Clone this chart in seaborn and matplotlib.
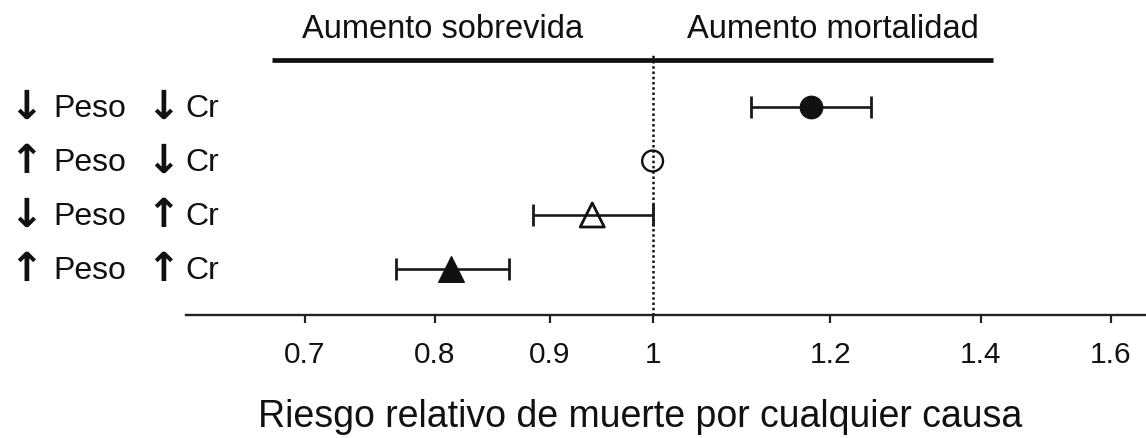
import numpy as np
import pandas as pd
import matplotlib
matplotlib.use("Agg")
import matplotlib.pyplot as plt
from matplotlib.ticker import NullLocator, FixedLocator, FixedFormatter
import seaborn as sns

# ---------------- data ----------------
peso_dir = ["↓", "↑", "↓", "↑"]
cr_dir = ["↓", "↓", "↑", "↑"]
rr = [1.176, 1.0, 0.940, 0.813]
ci_low = [1.106, np.nan, 0.885, 0.769]
ci_high = [1.251, np.nan, 1.0, 0.863]
xtick_values = [0.7, 0.8, 0.9, 1, 1.2, 1.4, 1.6]
xtick_labels = ["0.7", "0.8", "0.9", "1", "1.2", "1.4", "1.6"]
header_left = "Aumento sobrevida"
header_right = "Aumento mortalidad"
x_title = "Riesgo relativo de muerte por cualquier causa"

# ---------------- styles ----------------
INK = "#111111"
marker_styles = [
    dict(marker="o", s=260, color=INK, edgecolor=INK, linewidth=1.0),
    dict(marker="o", s=225, color="none", edgecolor=INK, linewidth=1.7),
    dict(marker="^", s=300, color="none", edgecolor=INK, linewidth=2.0),
    dict(marker="^", s=340, color=INK, edgecolor=INK, linewidth=1.0),
]

sns.set_theme(style="white")
plt.rcParams["font.family"] = ["Liberation Sans", "DejaVu Sans"]
plt.rcParams["text.color"] = INK

df = pd.DataFrame({"rr": rr, "lo": ci_low, "hi": ci_high, "pos": np.arange(len(rr))})

fig = plt.figure(figsize=(11.46, 4.38), dpi=100)
W, H = 1146, 438
ax = fig.add_axes([186 / W, 1 - 315 / H, 960 / W, (315 - 54) / H])
ax.set_xscale("log")

# error bars (only rows that have an interval)
ci = df.dropna()
ax.errorbar(ci["rr"], ci["pos"], xerr=[ci["rr"] - ci["lo"], ci["hi"] - ci["rr"]],
            fmt="none", ecolor="#1a1a1a", elinewidth=1.9, capsize=8, capthick=2.0, zorder=2)

# point estimates
for i, st in enumerate(marker_styles):
    sns.scatterplot(x=df["rr"].iloc[[i]], y=df["pos"].iloc[[i]], ax=ax, zorder=3,
                    legend=False, **st)

# reference line at 1
ax.axvline(1, color=INK, lw=1.8, linestyle=(0, (1, 1.1)), zorder=1)

# limits
ax.set_xlim(0.6197, 1.6587)
ax.set_ylim(3.852, -0.981)

# header bar and labels
ax.hlines(-0.87, 0.677, 1.418, color=INK, lw=3.4, zorder=2)
ax.text(0.806, -1.278, header_left, ha="center", va="baseline", fontsize=23.5, clip_on=False)
ax.text(1.203, -1.278, header_right, ha="center", va="baseline", fontsize=23.5, clip_on=False)

# row labels
ytr = ax.get_yaxis_transform()
for i in range(len(rr)):
    ax.text(-0.1843, i + 0.02, peso_dir[i], transform=ytr, ha="left", va="center",
            fontsize=29, fontweight="bold", family=["DejaVu Sans"], clip_on=False)
    ax.text(-0.1385, i + 0.185, "Peso", transform=ytr, ha="left", va="baseline",
            fontsize=23, clip_on=False)
    ax.text(-0.0416, i + 0.02, cr_dir[i], transform=ytr, ha="left", va="center",
            fontsize=29, fontweight="bold", family=["DejaVu Sans"], clip_on=False)
    ax.text(-0.0010, i + 0.185, "Cr", transform=ytr, ha="left", va="baseline",
            fontsize=23, clip_on=False)

# axes styling
ax.xaxis.set_major_locator(FixedLocator(xtick_values))
ax.xaxis.set_major_formatter(FixedFormatter(xtick_labels))
ax.xaxis.set_minor_locator(NullLocator())
ax.set_yticks([])
ax.set_ylabel("")
for side in ["top", "right", "left"]:
    ax.spines[side].set_visible(False)
ax.spines["bottom"].set_color("#222222")
ax.spines["bottom"].set_linewidth(1.7)
ax.tick_params(axis="x", direction="out", length=6, width=1.6, color="#222222",
               labelsize=21.5, labelcolor=INK, pad=13, bottom=True)
ax.set_xlabel(x_title, fontsize=27, va="baseline", color=INK)
ax.xaxis.set_label_coords((640 - 186) / 960, (315 - 427) / 261)

fig.savefig("out.png", dpi=100)
